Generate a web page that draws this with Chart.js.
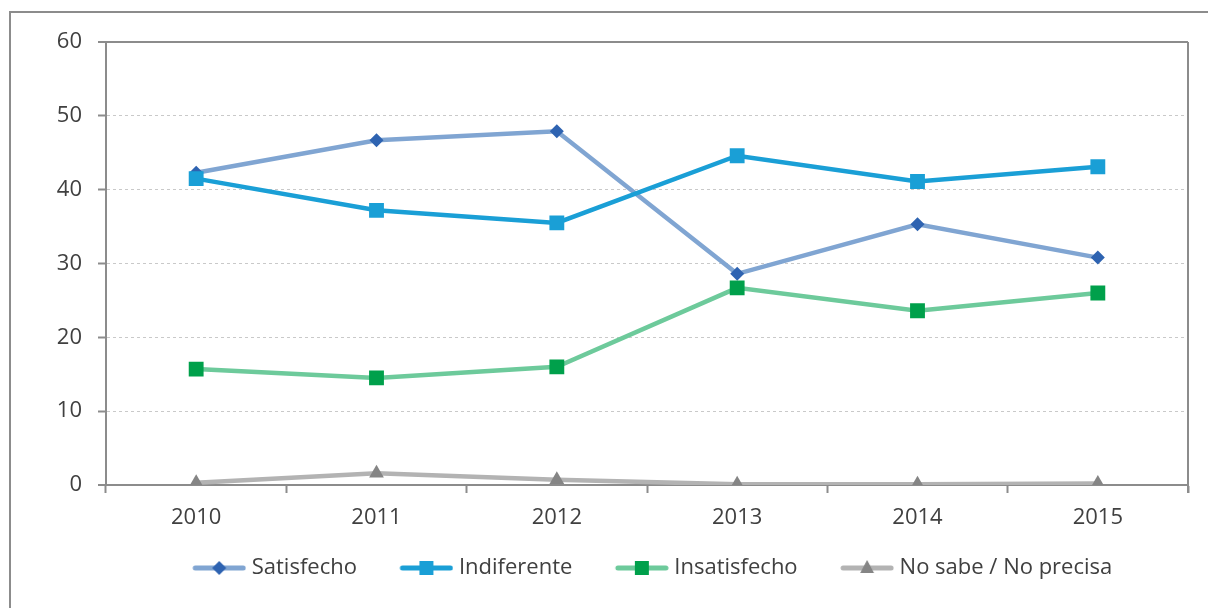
<!DOCTYPE html>
<html lang="es">
<head>
<meta charset="utf-8">
<title>Satisfacción 2010-2015</title>
<script src="https://cdn.jsdelivr.net/npm/chart.js@4/dist/chart.umd.min.js"></script>
<style>
  html, body { margin: 0; padding: 0; background: #ffffff; }
  #wrap { position: relative; width: 1208px; height: 608px; overflow: hidden; }
  #frame { position: absolute; left: 9px; top: 11px; width: 1300px; height: 700px;
           border-left: 2px solid #8c8c8c; border-top: 2px solid #8c8c8c; }
  #chart { position: absolute; left: 0; top: 0; }
</style>
</head>
<body>
<div id="wrap">
  <div id="frame"></div>
  <canvas id="chart" width="1208" height="608"></canvas>
</div>
<script>
// Years and survey shares (%)
const years = ['2010', '2011', '2012', '2013', '2014', '2015'];
const satisfecho   = [42.3, 46.7, 47.9, 28.6, 35.3, 30.8];
const indiferente  = [41.5, 37.2, 35.5, 44.6, 41.1, 43.1];
const insatisfecho = [15.7, 14.5, 16.0, 26.7, 23.6, 26.0];
const noSabe       = [0.3, 1.6, 0.7, 0.1, 0.1, 0.2];
const yTicks = [0, 10, 20, 30, 40, 50, 60];

const FONT = '"Open Sans", Lato, sans-serif';
const FONT_SIZE = 22;
const TEXT = '#404040';
const AXIS = '#8c8c8c';

// Legend box geometry: the icon canvas is a bit wider than the box and
// carries a transparent left margin, so the line sits close to its label.
const LEGEND_BOX = 71;
const ICON_W = LEGEND_BOX + 11;
const ICON_LINE = 54;
const LEGEND_SHIFT = 47;

// Legend icon: line segment with the series marker in the middle
function legendIcon(lineColor, markerColor, shape) {
  const w = ICON_W, h = 22;
  const c = document.createElement('canvas');
  c.width = w; c.height = h;
  const ctx = c.getContext('2d');
  const x0 = w - ICON_LINE;
  const cy = h / 2, cx = x0 + ICON_LINE / 2;
  ctx.strokeStyle = lineColor;
  ctx.lineWidth = 5;
  ctx.lineCap = 'round';
  ctx.beginPath(); ctx.moveTo(x0 + 3, cy); ctx.lineTo(w - 3, cy); ctx.stroke();
  ctx.fillStyle = markerColor;
  ctx.beginPath();
  if (shape === 'diamond') {
    const r = 7;
    ctx.moveTo(cx, cy - r); ctx.lineTo(cx + r, cy); ctx.lineTo(cx, cy + r); ctx.lineTo(cx - r, cy);
  } else if (shape === 'square') {
    const s = 7;
    ctx.rect(cx - s, cy - s, 2 * s, 2 * s);
  } else {
    const r = 8;
    ctx.moveTo(cx, cy - r);
    ctx.lineTo(cx + r * 0.866, cy + r * 0.5 + 1);
    ctx.lineTo(cx - r * 0.866, cy + r * 0.5 + 1);
  }
  ctx.closePath();
  ctx.fill();
  return c;
}

const series = [
  { label: 'Satisfecho',         data: satisfecho,   line: '#80a5d2', marker: '#2e63b1', style: 'rectRot',  radius: 7,    shape: 'diamond' },
  { label: 'Indiferente',        data: indiferente,  line: '#1a9fd6', marker: '#1a9fd6', style: 'rect',     radius: 10.5, shape: 'square' },
  { label: 'Insatisfecho',       data: insatisfecho, line: '#6dca9b', marker: '#00a04b', style: 'rect',     radius: 10.5, shape: 'square' },
  { label: 'No sabe / No precisa', data: noSabe,     line: '#b3b3b3', marker: '#858585', style: 'triangle', radius: 8.5,  shape: 'triangle' }
];

const icons = series.map(s => legendIcon(s.line, s.marker, s.shape));

// Frame lines on the top and right of the plot area
const plotFrame = {
  id: 'plotFrame',
  afterLayout(chart) {
    // nudge the legend row to the right
    if (chart.legend) {
      chart.legend.left += LEGEND_SHIFT;
      chart.legend.right += LEGEND_SHIFT;
    }
  },
  beforeDatasetsDraw(chart) {
    const { ctx, chartArea: a } = chart;
    ctx.save();
    ctx.strokeStyle = AXIS;
    ctx.lineWidth = 2;
    ctx.beginPath();
    ctx.moveTo(a.left, a.top);
    ctx.lineTo(a.right, a.top);
    ctx.moveTo(a.right, a.top);
    ctx.lineTo(a.right, a.bottom + 8);
    ctx.stroke();
    ctx.restore();
  }
};

new Chart(document.getElementById('chart'), {
  type: 'line',
  data: {
    labels: years,
    datasets: series.map(s => ({
      label: s.label,
      data: s.data,
      borderColor: s.line,
      backgroundColor: s.marker,
      borderWidth: 4.5,
      pointStyle: s.style,
      pointRadius: s.radius,
      pointBackgroundColor: s.marker,
      pointBorderColor: s.marker,
      pointBorderWidth: 0,
      tension: 0,
      fill: false
    })).reverse()
  },
  options: {
    responsive: false,
    animation: false,
    layout: { padding: { top: 42, right: 20, left: 0, bottom: 19 } },
    plugins: {
      tooltip: { enabled: false },
      legend: {
        position: 'bottom',
        labels: {
          usePointStyle: true,
          pointStyleWidth: LEGEND_BOX,
          padding: 20,
          color: TEXT,
          font: { family: FONT, size: FONT_SIZE },
          generateLabels(chart) {
            return series.map((s, i) => ({
              text: s.label,
              fillStyle: s.marker,
              strokeStyle: s.line,
              pointStyle: icons[i],
              lineWidth: 0,
              hidden: false,
              datasetIndex: series.length - 1 - i,
              fontColor: TEXT
            }));
          }
        }
      }
    },
    scales: {
      x: {
        offset: true,
        grid: {
          offset: true,
          drawOnChartArea: false,
          drawTicks: true,
          tickLength: 8,
          tickColor: AXIS,
          tickWidth: 2
        },
        border: { display: true, color: AXIS, width: 2 },
        ticks: { color: TEXT, font: { family: FONT, size: FONT_SIZE }, padding: 12, maxRotation: 0 },
        afterFit(scale) { scale.height = 52; }
      },
      y: {
        min: 0,
        max: 60,
        afterBuildTicks(scale) { scale.ticks = yTicks.map(v => ({ value: v })); },
        grid: {
          color: ctx => (ctx.tick && (ctx.tick.value === 60 || ctx.tick.value === 0)) ? AXIS : '#c9c9c9',
          lineWidth: ctx => (ctx.tick && (ctx.tick.value === 60 || ctx.tick.value === 0)) ? 2 : 1,
          tickLength: 8,
          tickColor: AXIS,
          tickWidth: 2
        },
        border: {
          display: true, color: AXIS, width: 2,
          dash: ctx => (ctx.tick && (ctx.tick.value === 60 || ctx.tick.value === 0)) ? [] : [3, 3]
        },
        ticks: { color: TEXT, font: { family: FONT, size: FONT_SIZE }, padding: 16 },
        afterFit(scale) { scale.width = 106; }
      }
    }
  },
  plugins: [plotFrame]
});
</script>
</body>
</html>
